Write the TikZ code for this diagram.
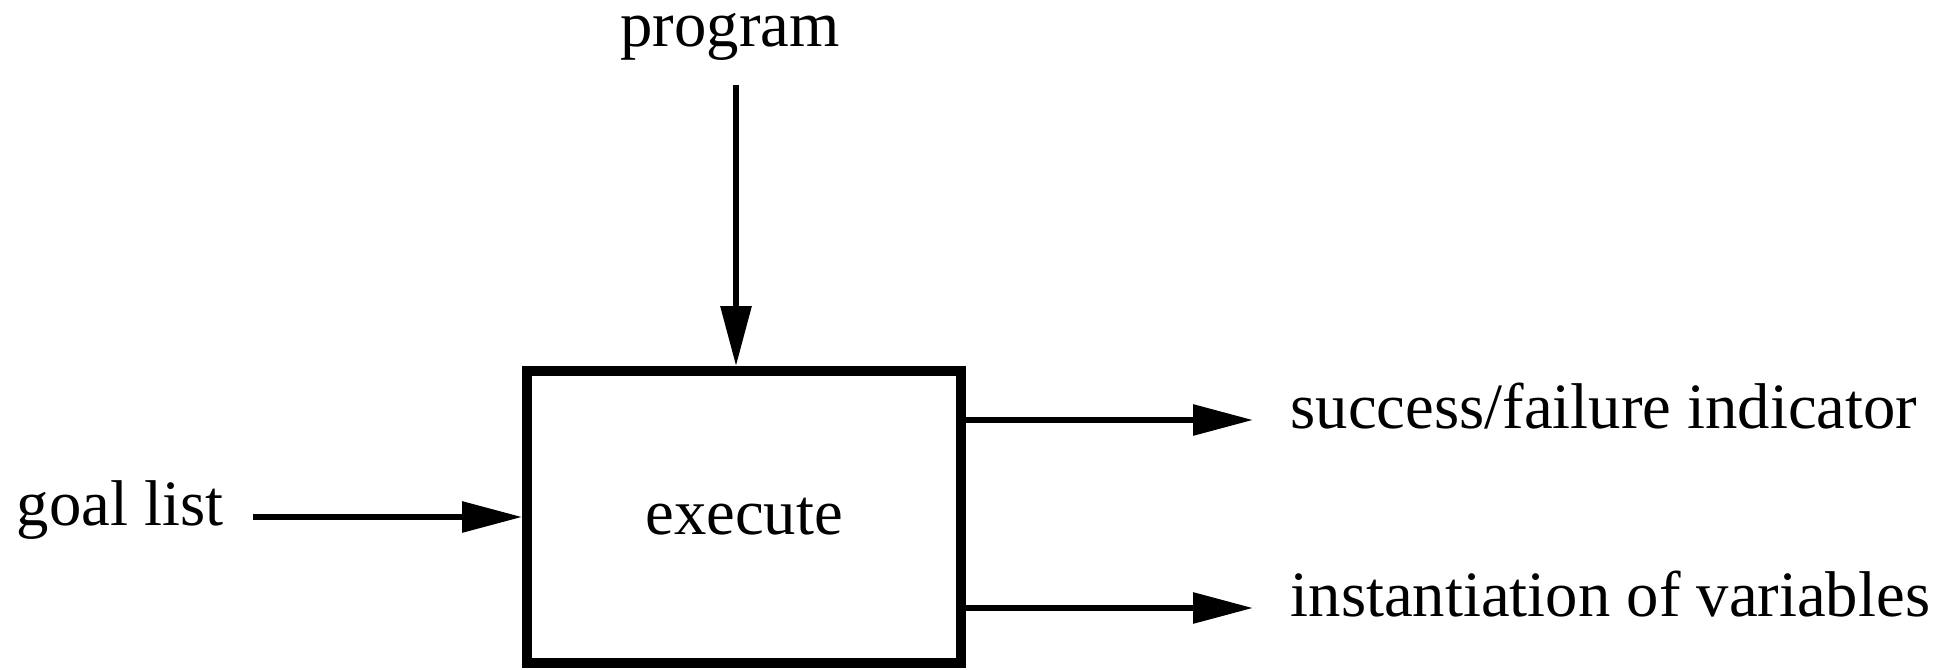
\documentclass[tikz,border=0pt]{standalone}
\usepackage{fontspec}
\setmainfont{Liberation Serif}
\usetikzlibrary{arrows.meta}
\begin{document}
\begin{tikzpicture}[
  every node/.style={font=\fontsize{18.4}{22}\selectfont},
  conn/.style={line width=1.7pt, -{Triangle[length=0.6cm,width=0.3cm]}}]
\useasboundingbox (0,0) rectangle (19.55,6.70);
\node[draw, line width=2.8pt, minimum width=4.34cm, minimum height=2.92cm, inner sep=0pt] (box) at (7.44,1.53) {execute};
\node[anchor=base] (prog) at (7.30,6.23) {program};
\node[anchor=mid east, inner xsep=0.29cm] (goal) at (2.53,1.53) {goal list};
\node[anchor=mid west, inner xsep=0.37cm] (succ) at (12.53,2.50) {success/failure indicator};
\node[anchor=mid west, inner xsep=0.37cm] (inst) at (12.53,0.62) {instantiation of variables};
\coordinate (p0) at (7.36,5.85);

\draw[conn] (p0) -- (p0 |- box.north);
\draw[conn] (goal.mid east) -- (goal.mid east -| box.west);
\draw[conn] (box.east |- succ.mid west) -- (succ.mid west);
\draw[conn] (box.east |- inst.mid west) -- (inst.mid west);
\end{tikzpicture}
\end{document}
